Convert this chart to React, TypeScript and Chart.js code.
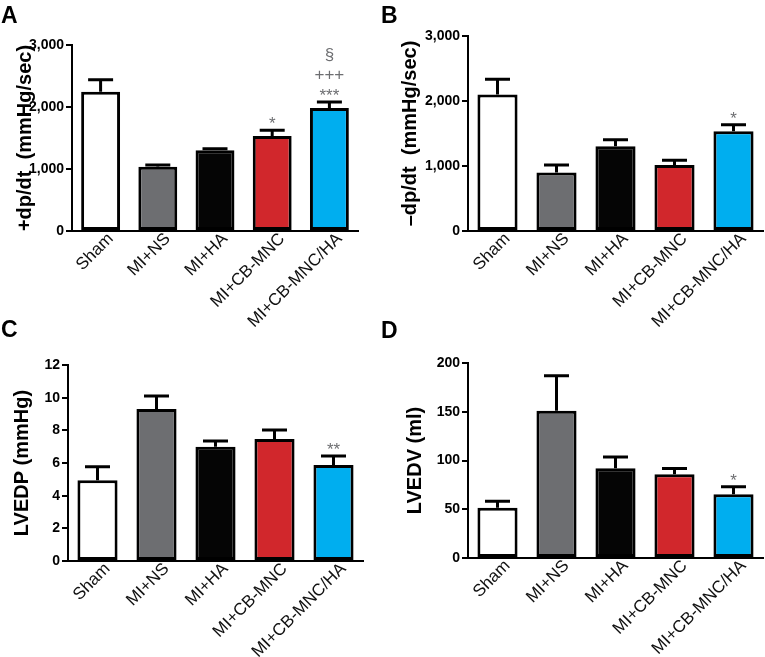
import React, { useEffect, useRef } from 'react';
import { Chart, registerables } from 'chart.js';
Chart.register(...registerables);

const categories = ['Sham', 'MI+NS', 'MI+HA', 'MI+CB-MNC', 'MI+CB-MNC/HA'];
const barColors = ['#ffffff', '#6d6e71', '#050505', '#d1272c', '#00aeef'];

// Panel A: +dp/dt
const plusDpDt = [2245, 1035, 1302, 1533, 1985];
const plusDpDtSem = [193, 28, 26, 92, 97];
const plusDpDtMarks = [[], [], [], ['*'], ['***', '+++', '§']];

// Panel B: -dp/dt
const minusDpDt = [2100, 900, 1305, 1015, 1535];
const minusDpDtSem = [235, 115, 100, 75, 100];
const minusDpDtMarks = [[], [], [], [], ['*']];

// Panel C: LVEDP
const lvedp = [4.95, 9.3, 7.0, 7.47, 5.88];
const lvedpSem = [0.82, 0.8, 0.34, 0.55, 0.55];
const lvedpMarks = [[], [], [], [], ['**']];

// Panel D: LVEDV
const lvedv = [51.5, 151, 92, 86, 65.5];
const lvedvSem = [6.8, 36, 11.5, 5.8, 7.7];
const lvedvMarks = [[], [], [], [], ['*']];

const FONT = '"Liberation Sans", Arial, Helvetica, sans-serif';

type Panel = {
  letter: string;
  title: string;
  values: number[];
  sem: number[];
  marks: string[][];
  max: number;
  step: number;
  left: number;
  top: number;
  w: number;
  h: number;
  plotL: number;
  plotR: number;
  plotT: number;
  plotB: number;
  titleX: number;
  letterTop: number;
};

const panels: Panel[] = [
  {
    letter: 'A', title: '+dp/dt  (mmHg/sec)', values: plusDpDt, sem: plusDpDtSem, marks: plusDpDtMarks,
    max: 3000, step: 1000, left: 0, top: 0, w: 380, h: 333,
    plotL: 72, plotR: 358, plotT: 45, plotB: 231, titleX: 25.5, letterTop: 4,
  },
  {
    letter: 'B', title: '\u2013dp/dt  (mmHg/sec)', values: minusDpDt, sem: minusDpDtSem, marks: minusDpDtMarks,
    max: 3000, step: 1000, left: 380, top: 0, w: 385, h: 333,
    plotL: 88, plotR: 383, plotT: 36, plotB: 231, titleX: 30.5, letterTop: 4,
  },
  {
    letter: 'C', title: 'LVEDP (mmHg)', values: lvedp, sem: lvedpSem, marks: lvedpMarks,
    max: 12, step: 2, left: 0, top: 333, w: 380, h: 324,
    plotL: 68, plotR: 363, plotT: 32, plotB: 228, titleX: 22, letterTop: 318,
  },
  {
    letter: 'D', title: 'LVEDV (ml)', values: lvedv, sem: lvedvSem, marks: lvedvMarks,
    max: 200, step: 50, left: 380, top: 333, w: 385, h: 324,
    plotL: 88, plotR: 383, plotT: 30, plotB: 225, titleX: 35, letterTop: 319,
  },
];

function BarPanel({ p }: { p: Panel }) {
  const ref = useRef<HTMLCanvasElement | null>(null);
  useEffect(() => {
    if (!ref.current) return;
    const errorPlugin = {
      id: 'errorBars' + p.letter,
      afterDatasetsDraw(chart: any) {
        const ctx = chart.ctx;
        const meta = chart.getDatasetMeta(0);
        const y = chart.scales.y;
        ctx.save();
        meta.data.forEach((bar: any, i: number) => {
          const v = p.values[i];
          const e = p.sem[i];
          const base = y.getPixelForValue(v);
          const top = y.getPixelForValue(v + e);
          ctx.strokeStyle = '#000';
          ctx.lineWidth = 3;
          ctx.beginPath();
          ctx.moveTo(bar.x, base);
          ctx.lineTo(bar.x, top);
          ctx.moveTo(bar.x - 12.5, top);
          ctx.lineTo(bar.x + 12.5, top);
          ctx.stroke();
          const marks = p.marks[i] || [];
          ctx.fillStyle = '#6d6e71';
          ctx.font = '17px ' + FONT;
          ctx.textAlign = 'center';
          ctx.textBaseline = 'alphabetic';
          marks.forEach((m, k) => {
            ctx.fillText(m, bar.x, top - 1 - k * 20.5);
          });
        });
        ctx.restore();
      },
    };
    const chart = new Chart(ref.current, {
      type: 'bar',
      data: {
        labels: categories,
        datasets: [
          {
            data: p.values,
            backgroundColor: barColors,
            borderColor: '#000',
            borderWidth: 3,
            borderSkipped: false,
            barPercentage: 0.68,
            categoryPercentage: 1,
          },
        ],
      },
      options: {
        animation: false,
        responsive: false,
        devicePixelRatio: 1,
        layout: { padding: { left: 0, top: p.plotT, right: p.w - p.plotR, bottom: 0 } },
        plugins: { legend: { display: false }, tooltip: { enabled: false } },
        scales: {
          x: {
            grid: { display: false, drawTicks: false, tickLength: 0 },
            border: { display: true, color: '#000', width: 2 },
            ticks: {
              color: '#111',
              font: { family: FONT, size: 17 },
              minRotation: 45,
              maxRotation: 45,
              autoSkip: false,
              padding: -2,
              labelOffset: 10,
            },
            afterFit: (s: any) => { s.height = p.h - p.plotB; },
          },
          y: {
            min: 0,
            max: p.max,
            ticks: {
              stepSize: p.step,
              color: '#000',
              font: { family: FONT, size: 14, weight: 'bold' },
              padding: 2,
              callback: (v: any) => Number(v).toLocaleString('en-US'),
            },
            grid: { display: true, drawOnChartArea: false, drawTicks: true, tickLength: 6, color: '#000', lineWidth: 2 },
            border: { display: true, color: '#000', width: 2 },
            title: {
              display: true,
              text: p.title,
              color: '#000',
              font: { family: FONT, size: 20, weight: 'bold' },
              padding: { top: p.titleX - 12, bottom: 0 },
            },
            afterFit: (s: any) => { s.width = p.plotL; },
          },
        },
      },
      plugins: [errorPlugin],
    } as any);
    return () => chart.destroy();
  }, [p]);
  return (
    <canvas
      ref={ref}
      width={p.w}
      height={p.h}
      style={{ position: 'absolute', left: p.left, top: p.top, width: p.w, height: p.h }}
    />
  );
}

export default function App() {
  return (
    <div style={{ position: 'absolute', left: 0, top: 0, width: 765, height: 657, background: '#fff', overflow: 'hidden' }}>
      {panels.map((p) => (
        <BarPanel key={p.letter} p={p} />
      ))}
      {panels.map((p) => (
        <div
          key={'l' + p.letter}
          style={{
            position: 'absolute',
            left: p.left + 1,
            top: p.letterTop,
            fontFamily: FONT,
            fontWeight: 'bold',
            fontSize: 23,
            lineHeight: 1,
            color: '#000',
          }}
        >
          {p.letter}
        </div>
      ))}
    </div>
  );
}
